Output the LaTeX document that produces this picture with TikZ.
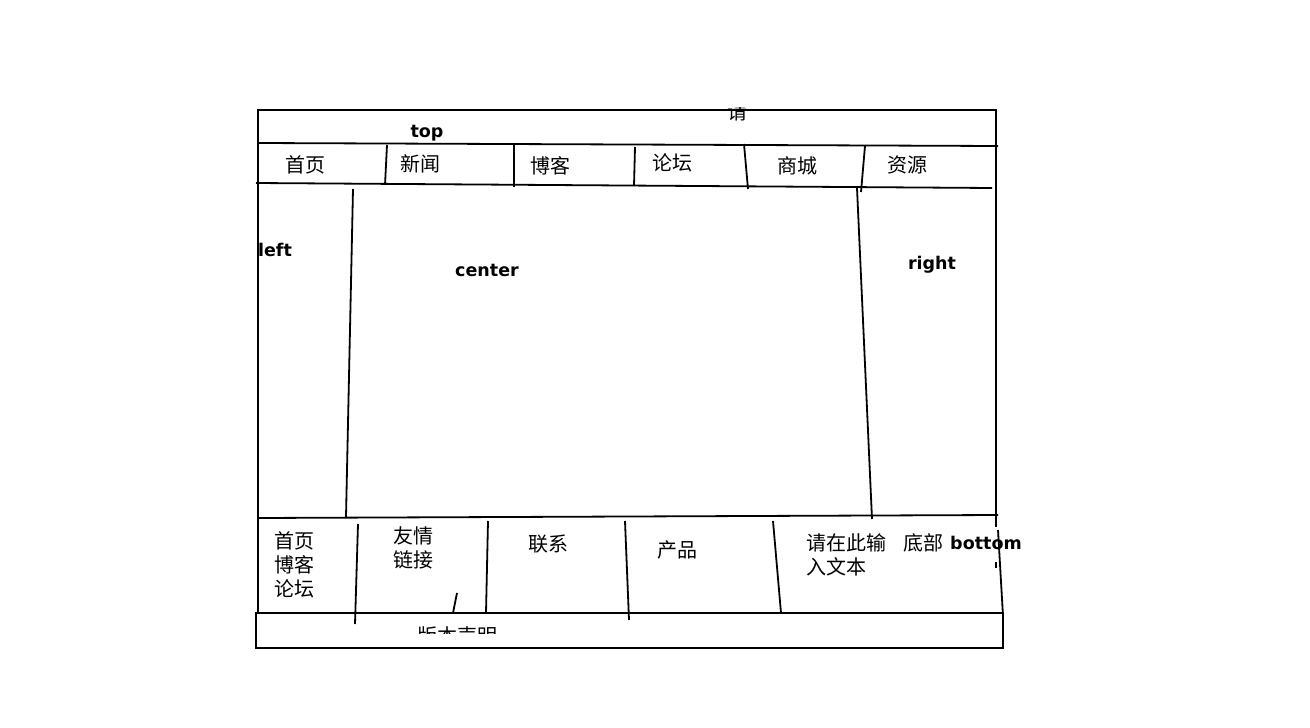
\documentclass[tikz,border=0pt]{standalone}
\usepackage{fontspec}
\setmainfont{DejaVu Sans}
\newfontfamily\cjk{Noto Sans CJK SC}
\usepackage{tikz}
\usetikzlibrary{positioning}
\tikzset{
    sketch/.style={draw, line width=1.8pt},
    tag/.style={font=\bfseries\fontsize{17.5}{20}\selectfont, inner sep=0pt},
    zh/.style={font=\cjk\fontsize{20}{24}\selectfont, inner sep=0pt, align=left}
}

\begin{document}
\begin{tikzpicture}[x=1pt, y=-1pt]
    \useasboundingbox (0,0) rectangle (1310,728);

    % Outer frame
    \draw [sketch] (258,613) -- (258,110) -- (996,110) -- (996,527);
    \draw [sketch] (258,143) -- (998,146);
    \draw [sketch] (256,183) -- (992,188);
    \draw [sketch] (258,518) -- (998,515);
    \draw [sketch] (256,613) rectangle (1003,648);
    \draw [sketch] (998,530) -- (1003,616);
    \draw [sketch] (996,562) -- (996,568);

    % Menu dividers
    \draw [sketch] (387,145) -- (385,185);
    \draw [sketch] (514,143) -- (514,187);
    \draw [sketch] (635,147) -- (634,186);
    \draw [sketch] (744,144) -- (748,189);
    \draw [sketch] (865,146) -- (861,192);

    % Columns
    \draw [sketch] (353,189) -- (346,517);
    \draw [sketch] (857,188) -- (872,519);

    % Footer dividers
    \draw [sketch] (358,524) -- (355,624);
    \draw [sketch] (488,521) -- (486,613);
    \draw [sketch] (625,521) -- (629,620);
    \draw [sketch] (773,521) -- (781,613);
    \draw [sketch] (457,593) -- (453,613);

    % Region names
    \node [tag] (top) at (427,133) {top};
    \node [tag] (left) at (275,250) {left};
    \node [tag] (center) at (487,270) {center};
    \node [tag] (right) at (932,265) {right};
    \node [tag] (bottom) at (986,543) {bottom};

    % Menu
    \node [zh] (home) at (305,165) {首页};
    \node [zh] (news) at (420,164) {新闻};
    \node [zh] (blog) at (550,166) {博客};
    \node [zh] (forum) at (672,163) {论坛};
    \node [zh] (shop) at (797,166) {商城};
    \node [zh] (res) at (907,165) {资源};

    % Footer
    \node [zh, anchor=north west] (links) at (274,531) {首页\\博客\\论坛};
    \node [zh, anchor=north west] (friends) at (393,526) {友情\\链接};
    \node [zh] (contact) at (548,544) {联系};
    \node [zh] (product) at (677,550) {产品};
    \node [zh, anchor=north west] (input) at (806,533) {请在此输\\入文本};
    \node [zh] (foot) at (923,543) {底部};

    % Cut-off texts
    \begin{scope}
        \clip (700,107) rectangle (780,130);
        \node [zh] (please) at (737,112) {请};
    \end{scope}
    \begin{scope}
        \clip (400,600) rectangle (520,633);
        \node [zh] (rights) at (457,636) {版本声明};
    \end{scope}
\end{tikzpicture}
\end{document}
